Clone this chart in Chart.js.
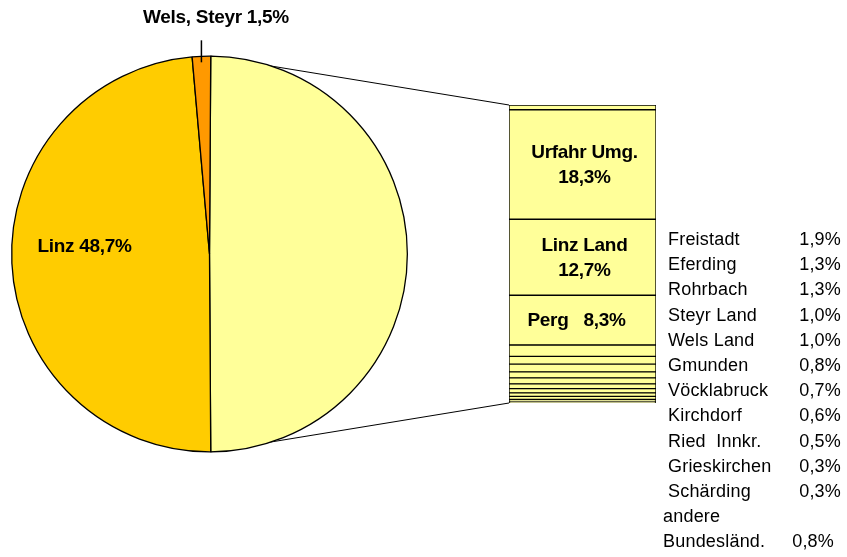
<!DOCTYPE html>
<html>
<head>
<meta charset="utf-8">
<script src="https://cdn.jsdelivr.net/npm/chart.js@4"></script>
<style>
    body { margin: 0; background: #fff; }
    #wrap { position: relative; width: 847px; height: 557px; }
    canvas { position: absolute; left: 0; top: 0; }
</style>
</head>
<body>
<div id="wrap">
    <canvas id="pieChart" width="847" height="557"></canvas>
    <canvas id="barChart" width="847" height="557"></canvas>
</div>
<script>
// Pie: the rest (split into the bar), Linz, Wels/Steyr
const pieLabels = ["Rest", "Linz", "Wels, Steyr"];
const pieValues = [49.8, 48.7, 1.5];
const pieColors = ["#FFFF99", "#FFCC00", "#FF9900"];

// Bar: listed top to bottom
const barLabels = ["andere Bundesländ.", "Urfahr Umg.", "Linz Land", "Perg", "Freistadt", "Eferding",
    "Rohrbach", "Steyr Land", "Wels Land", "Gmunden", "Vöcklabruck", "Kirchdorf",
    "Ried  Innkr.", "Grieskirchen", "Schärding"];
const barValues = [0.8, 18.3, 12.7, 8.3, 1.9, 1.3, 1.3, 1.0, 1.0, 0.8, 0.7, 0.6, 0.5, 0.3, 0.3];

// Small ones shown in the side list (top to bottom)
const listNames = ["Freistadt", "Eferding", "Rohrbach", "Steyr Land", "Wels Land", "Gmunden",
    "Vöcklabruck", "Kirchdorf", "Ried  Innkr.", "Grieskirchen", "Schärding", "andere", "Bundesländ."];
const listValues = ["1,9%", "1,3%", "1,3%", "1,0%", "1,0%", "0,8%", "0,7%", "0,6%", "0,5%", "0,3%", "0,3%", "", "0,8%"];

const fmt = v => v.toFixed(1).replace(".", ",") + "%";
const barTotal = barValues.reduce((a, b) => a + b, 0);
const boldFont = "bold 19px 'Liberation Sans', Arial, sans-serif";

// Bar chart first (sits on top), datasets bottom to top
const barDatasets = barLabels.map((label, i) => ({
    label: label,
    data: [barValues[i]],
    backgroundColor: "#FFFF99",
    borderColor: "#000",
    borderWidth: 1,
    borderSkipped: false,
    categoryPercentage: 1,
    barPercentage: 1
})).reverse();

const barLabelPlugin = {
    id: "barLabels",
    afterDatasetsDraw(chart) {
        const ctx = chart.ctx;
        ctx.save();
        ctx.fillStyle = "#000";
        ctx.textAlign = "center";
        ctx.textBaseline = "middle";
        ctx.font = boldFont;
        ctx.letterSpacing = "-0.3px";

        // Labels inside the big segments
        chart.data.datasets.forEach((ds, i) => {
            const bar = chart.getDatasetMeta(i).data[0];
            const cy = (bar.y + bar.base) / 2;
            if (ds.label === "Urfahr Umg." || ds.label === "Linz Land") {
                ctx.fillText(ds.label, bar.x + 2, cy - 12);
                ctx.fillText(fmt(ds.data[0]), bar.x + 2, cy + 13);
            } else if (ds.label === "Perg") {
                ctx.fillText("Perg   " + fmt(ds.data[0]), bar.x - 6, cy + 1);
            }
        });

        // Side list
        ctx.font = "18px 'Liberation Sans', Arial, sans-serif";
        ctx.letterSpacing = "0.2px";
        listNames.forEach((name, i) => {
            const y = 240 + i * 25.2;
            ctx.textAlign = "left";
            const nx = (name === "andere" || name === "Bundesländ.") ? 663 : 668;
            ctx.fillText(name, nx, y);
            ctx.textAlign = "right";
            ctx.fillText(listValues[i], name === "Bundesländ." ? 834 : 841, y);
        });
        ctx.restore();
    }
};

const barChart = new Chart(document.getElementById("barChart"), {
    type: "bar",
    data: { labels: [""], datasets: barDatasets },
    options: {
        responsive: false,
        animation: false,
        layout: { padding: { left: 509, right: 191, top: 105, bottom: 154 } },
        scales: {
            x: { display: false, stacked: true },
            y: { display: false, stacked: true, min: 0, max: barTotal }
        },
        plugins: { legend: { display: false }, tooltip: { enabled: false } }
    },
    plugins: [barLabelPlugin]
});

// Pie: connector lines behind it, labels on top
const piePlugin = {
    id: "pieExtras",
    beforeDatasetsDraw(chart) {
        const ctx = chart.ctx;
        const arc = chart.getDatasetMeta(0).data[0];
        const area = barChart.chartArea;
        ctx.save();
        ctx.strokeStyle = "#000";
        ctx.lineWidth = 1;
        ctx.beginPath();
        ctx.moveTo(arc.x + arc.outerRadius * Math.cos(arc.startAngle), arc.y + arc.outerRadius * Math.sin(arc.startAngle));
        ctx.lineTo(area.left, area.top);
        ctx.moveTo(arc.x + arc.outerRadius * Math.cos(arc.endAngle), arc.y + arc.outerRadius * Math.sin(arc.endAngle));
        ctx.lineTo(area.left, area.bottom);
        ctx.stroke();
        ctx.restore();
    },
    afterDatasetsDraw(chart) {
        const ctx = chart.ctx;
        const meta = chart.getDatasetMeta(0);
        ctx.save();
        ctx.fillStyle = "#000";
        ctx.textAlign = "center";
        ctx.textBaseline = "middle";
        ctx.font = boldFont;
        ctx.letterSpacing = "-0.3px";

        // Linz label inside its slice
        const linz = meta.data[1];
        ctx.fillText(pieLabels[1] + " " + fmt(pieValues[1]), linz.x - linz.outerRadius * 0.632, linz.y - 7);

        // Wels, Steyr label above with leader
        const wels = meta.data[2];
        const mid = (wels.startAngle + wels.endAngle) / 2;
        const px = wels.x + wels.outerRadius * Math.cos(mid);
        const py = wels.y + wels.outerRadius * Math.sin(mid);
        ctx.strokeStyle = "#000";
        ctx.lineWidth = 1.5;
        ctx.beginPath();
        ctx.moveTo(px, py + 6);
        ctx.lineTo(px, py - 16);
        ctx.stroke();
        ctx.fillText(pieLabels[2] + " " + fmt(pieValues[2]), 216, 18);
        ctx.restore();
    }
};

new Chart(document.getElementById("pieChart"), {
    type: "pie",
    data: {
        labels: pieLabels,
        datasets: [{
            data: pieValues,
            backgroundColor: pieColors,
            borderColor: "#000",
            borderWidth: 1.3
        }]
    },
    options: {
        responsive: false,
        animation: false,
        rotation: 90 - pieValues[0] * 3.6 / 2,
        layout: { padding: { left: 11, right: 439, top: 55.5, bottom: 104.5 } },
        plugins: { legend: { display: false }, tooltip: { enabled: false } }
    },
    plugins: [piePlugin]
});
</script>
</body>
</html>
